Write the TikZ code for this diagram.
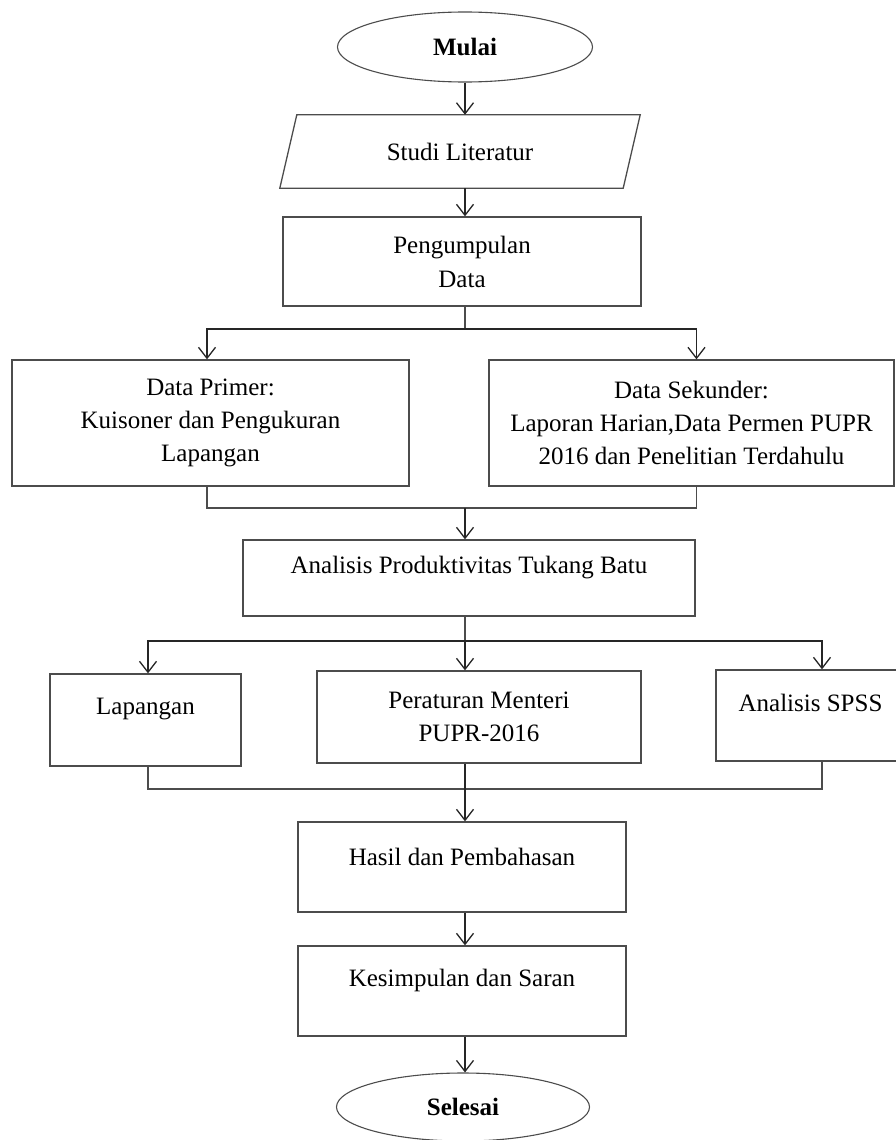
\documentclass[tikz,border=0pt]{standalone}
\usepackage{fontspec}
\setmainfont{Liberation Serif}
\usetikzlibrary{shapes.geometric,arrows.meta}
\begin{document}
\begin{tikzpicture}[x=1pt,y=-1pt,
  every node/.style={font=\fontsize{25}{33}\selectfont, inner sep=0pt, align=center},
  box/.style={draw=black!70, line width=1.3pt, rectangle},
  oval/.style={draw=black!70, line width=1.1pt, ellipse},
  lbl/.style={align=center, font=\fontsize{25}{33}\selectfont},
  arr/.style={draw=black!85, line width=1.3pt, -{Straight Barb[length=11pt,width=17pt]}},
  ln/.style={draw=black!70, line width=1.3pt}]
\useasboundingbox (0,0) rectangle (895,1140);

% nodes
\node[oval, minimum width=255pt, minimum height=70pt] (mulai) at (465,47) {\textbf{Mulai}};
\node[minimum width=343pt, minimum height=73pt] (studi) at (460,151.5) {Studi Literatur};
\draw[box] ([xshift=8.5pt]studi.north west) -- ([xshift=8.5pt]studi.north east)
  -- ([xshift=-8.5pt]studi.south east) -- ([xshift=-8.5pt]studi.south west) -- cycle;
\node[box, minimum width=358pt, minimum height=89pt] (peng) at (462,261.5) {Pengumpulan\\[1pt]Data};
\node[box, minimum width=397pt, minimum height=126pt] (primer) at (210.5,423) {Data Primer:\\Kuisoner dan Pengukuran\\Lapangan};
\node[box, minimum width=405pt, minimum height=126pt] (sekunder) at (691.5,423) {Data Sekunder:\\Laporan Harian,Data Permen PUPR\\2016 dan Penelitian Terdahulu};
\node[box, minimum width=452pt, minimum height=76pt,
  label={[lbl,yshift=10pt]center:Analisis Produktivitas Tukang Batu}] (analisis) at (469,578) {};
\node[box, minimum width=191pt, minimum height=92pt,
  label={[lbl,yshift=11pt]center:Lapangan}] (lap) at (145.5,720) {};
\node[box, minimum width=324pt, minimum height=92pt] (per) at (479,717) {Peraturan Menteri\\PUPR-2016};
\node[box, minimum width=189pt, minimum height=91pt,
  label={[lbl,yshift=12.5pt]center:Analisis SPSS}] (spss) at (810.5,715.5) {};
\node[box, minimum width=328pt, minimum height=90pt,
  label={[lbl,yshift=10pt]center:Hasil dan Pembahasan}] (hasil) at (462,867) {};
\node[box, minimum width=328pt, minimum height=90pt,
  label={[lbl,yshift=11pt]center:Kesimpulan dan Saran}] (kes) at (462,991) {};
\node[oval, minimum width=253pt, minimum height=68pt] (selesai) at (463,1107) {\textbf{Selesai}};

% junctions
\coordinate (j1) at (465,329);
\coordinate (j2) at (465,508);
\coordinate (j3) at (465,641);
\coordinate (j4) at (465,789);

% connectors
\draw[arr] (mulai.south) -- (mulai.south |- studi.north);
\draw[arr] (mulai.south |- studi.south) -- (mulai.south |- peng.north);
\draw[ln] (j1 |- peng.south) -- (j1);
\draw[arr] (j1) -| ([xshift=-3.5pt]primer.north);
\draw[arr] (j1) -| ([xshift=5pt]sekunder.north);
\draw[ln] ([xshift=-3.5pt]primer.south) |- (j2) -| ([xshift=5pt]sekunder.south);
\draw[arr] (j2) -- (j2 |- analisis.north);
\draw[ln] (j3 |- analisis.south) -- (j3);
\draw[arr] (j3) -| ([xshift=2.5pt]lap.north);
\draw[arr] (j3) -- (j3 |- per.north);
\draw[arr] (j3) -| ([xshift=11.5pt]spss.north);
\draw[ln] ([xshift=2.5pt]lap.south) |- (j4) -| ([xshift=11.5pt]spss.south);
\draw[arr] (j3 |- per.south) -- (j3 |- hasil.north);
\draw[arr] (j3 |- hasil.south) -- (j3 |- kes.north);
\draw[arr] (j3 |- kes.south) -- (j3 |- selesai.north);
\end{tikzpicture}
\end{document}
